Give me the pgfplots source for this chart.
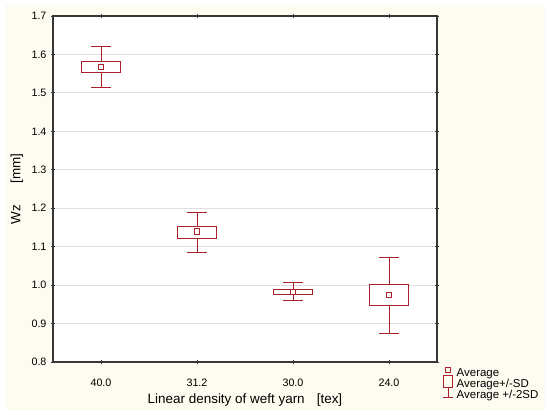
\documentclass[border=0pt]{standalone}
\usepackage{pgfplots}
\pgfplotsset{compat=1.18}
\usepgfplotslibrary{statistics}
\usepackage{fontspec}
\setmainfont{Liberation Sans}
\definecolor{wred}{RGB}{168,32,42}
\definecolor{cream}{RGB}{254,251,240}
\definecolor{framec}{RGB}{55,55,55}
\definecolor{gridc}{RGB}{222,222,222}
\pgfplotsset{
  wbox/.style={forget plot, draw=wred, color=wred, line width=0.9bp,
    boxplot/draw direction=y,
    boxplot/every box/.style={draw=wred, fill=white, line width=0.9bp},
    boxplot/draw/median/.code={},
    boxplot/draw/lower whisker/.code={},
    boxplot/draw/upper whisker/.code={},
    boxplot/box extend=0.4, boxplot/whisker extend=0.2},
}
\begin{document}
\begin{tikzpicture}
\path[use as bounding box] (0,0) rectangle (550bp,415bp);
\fill[cream] (5bp,5bp) rectangle (545bp,410bp);
\begin{axis}[
  at={(53bp,53bp)}, anchor=south west,
  scale only axis, width=384bp, height=346bp,
  xmin=0.5, xmax=4.5, ymin=0.8, ymax=1.7,
  xtick={1,2,3,4}, xticklabels={40.0,31.2,30.0,24.0},
  ytick={0.8,0.9,1.0,1.1,1.2,1.3,1.4,1.5,1.6,1.7},
  /pgf/number format/assume math mode=true,
  yticklabel style={xshift=-1bp, /pgf/number format/fixed, /pgf/number format/fixed zerofill, /pgf/number format/precision=1},
  tick label style={font=\fontsize{10.8}{12}\selectfont},
  xticklabel style={yshift=-11bp},
  ymajorgrids, grid style={gridc, line width=0.8bp},
  axis background/.style={fill=white},
  axis line style={framec, line width=1.2bp},
  tick style={framec, line width=0.8bp},
  tick align=center, major tick length=4bp,
  xlabel={Linear density of weft yarn\hspace{0.9em}[tex]},
  ylabel={Wz\hspace{1.6em}[mm]},
  label style={font=\fontsize{13.5}{15}\selectfont},
  xlabel style={at={(axis description cs:0.5,-0.110)}, anchor=center},
  ylabel style={at={(axis description cs:-0.094,0.5)}, anchor=center},
  legend style={at={(axis description cs:1.016,-0.018)}, anchor=north west,
    draw=none, fill=none, inner sep=0pt,
    font=\fontsize{11.5}{12}\selectfont,
    nodes={inner sep=0pt, text height=8.5bp, text depth=2.5bp}},
  legend cell align=left,
]
% whiskers (Average +/- 2SD)
\addplot[forget plot, draw=none, mark=none,
  error bars/.cd, y dir=both, y explicit,
  error bar style={draw=wred, line width=0.9bp},
  error mark options={draw=wred, line width=0.9bp, mark size=9.6bp, rotate=90}]
  coordinates {
    (1,1.567) += (0,0.053) -= (0,0.052)
    (2,1.139) += (0,0.051) -= (0,0.054)
    (3,0.982) += (0,0.025) -= (0,0.023)
    (4,0.974) += (0,0.099) -= (0,0.099)
  };
% boxes (Average +/- SD)
\addplot[wbox, boxplot prepared={draw position=1, lower whisker=1.515, lower quartile=1.552,
    median=1.567, upper quartile=1.582, upper whisker=1.620}] coordinates {};
\addplot[wbox, boxplot prepared={draw position=2, lower whisker=1.085, lower quartile=1.122,
    median=1.139, upper quartile=1.153, upper whisker=1.190}] coordinates {};
\addplot[wbox, boxplot prepared={draw position=3, lower whisker=0.959, lower quartile=0.975,
    median=0.982, upper quartile=0.989, upper whisker=1.007}] coordinates {};
\addplot[wbox, boxplot prepared={draw position=4, lower whisker=0.875, lower quartile=0.947,
    median=0.974, upper quartile=1.003, upper whisker=1.073}] coordinates {};
% averages
\addplot[forget plot, only marks, mark=square, mark size=2.8bp, wred, line width=0.9bp]
  coordinates {(1,1.567) (2,1.139) (3,0.982) (4,0.974)};
\addlegendimage{legend image code/.code={
  \path (0bp,0bp) (13bp,0bp);
  \draw[overlay, draw=wred, line width=0.8bp] (2bp,1.5bp) rectangle (7bp,6.5bp);}}
\addlegendentry{Average}
\addlegendimage{legend image code/.code={
  \path (0bp,0bp) (13bp,0bp);
  \draw[overlay, draw=wred, line width=0.8bp] (0bp,-2.5bp) rectangle (9bp,10bp);}}
\addlegendentry{Average+/-SD}
\addlegendimage{legend image code/.code={
  \path (0bp,0bp) (13bp,0bp);
  \draw[overlay, draw=wred, line width=0.8bp] (4.5bp,-1.5bp) -- (4.5bp,8.5bp)
    (-0.5bp,-1.5bp) -- (9.5bp,-1.5bp) (-0.5bp,8.5bp) -- (9.5bp,8.5bp);}}
\addlegendentry{Average +/-2SD}
\end{axis}
\end{tikzpicture}
\end{document}
